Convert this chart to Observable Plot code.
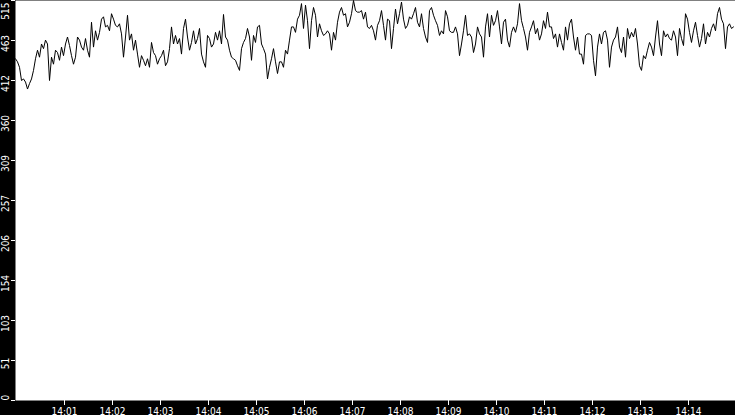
<!DOCTYPE html>
<html>
<head>
<meta charset="utf-8">
<script src="https://cdn.jsdelivr.net/npm/d3@7"></script>
<script src="https://cdn.jsdelivr.net/npm/@observablehq/plot@0.6"></script>
<style>
  html, body { margin: 0; padding: 0; background: black; }
  #chart svg { display: block; }
</style>
</head>
<body>
<div id="chart"></div>
<script>
// Series: one reading every 2.5 seconds from 14:00:00 to 14:15:00
const startTime = Date.UTC(2024, 0, 1, 14, 0, 0);
const stepMs = 2500;
const values = [
  440,436,429,412,414,410,401,408,414,425,440,451,442,459,453,464,459,412,442,433,
  451,448,438,455,444,459,468,457,444,433,442,468,464,455,451,466,451,442,487,455,
  476,464,474,491,494,481,483,476,498,491,483,481,485,472,442,468,496,464,472,451,
  464,446,429,444,438,431,440,429,461,448,444,433,440,444,451,431,436,453,481,459,
  470,459,466,446,479,491,468,451,461,476,459,466,479,446,436,429,470,466,455,459,
  474,464,476,459,497,468,464,451,442,440,438,431,425,453,461,466,479,468,438,470,
  461,481,483,459,453,446,414,429,440,453,436,421,436,436,429,451,446,464,481,481,
  474,491,496,511,479,509,489,453,489,506,496,468,485,476,470,472,476,472,451,474,
  464,487,500,506,496,498,481,487,498,515,502,500,500,502,491,500,481,479,483,476,
  464,483,489,502,483,464,491,489,453,479,504,485,498,513,491,479,483,494,491,498,
  506,487,481,498,479,468,461,502,506,496,489,483,470,476,472,502,494,476,474,474,
  481,472,444,459,476,496,470,472,468,448,459,481,472,468,442,481,498,468,496,483,
  489,502,481,459,487,491,464,455,474,481,474,485,511,489,479,468,451,474,481,489,
  472,479,464,472,489,479,500,481,481,466,472,455,472,461,451,481,464,485,491,468,
  451,468,446,446,433,470,472,472,470,438,418,455,472,459,474,476,464,429,455,464,
  468,481,455,448,468,442,479,466,474,468,479,459,431,425,444,440,451,461,455,444,
  468,489,459,444,476,468,472,466,464,476,468,444,479,466,457,498,491,474,461,476,
  487,470,455,466,485,459,474,468,479,485,476,498,506,491,485,453,481,485,479,481
];

const yTickValues = [0, 51.5, 103, 154.5, 206, 257.5, 309, 360.5, 412, 463.5, 515];
const yTickLabels = ["0", "51", "103", "154", "206", "257", "309", "360", "412", "463", "515"];
const xTickMinutes = [1, 2, 3, 4, 5, 6, 7, 8, 9, 10, 11, 12, 13, 14];
const xTickLabels = ["14:01", "14:02", "14:03", "14:04", "14:05", "14:06", "14:07",
                     "14:08", "14:09", "14:10", "14:11", "14:12", "14:13", "14:14"];

const data = values.map((v, i) => ({ t: new Date(startTime + i * stepMs), v }));
const xTickValues = xTickMinutes.map(m => new Date(startTime + m * 60000));
const xLabelOf = d => xTickLabels[xTickValues.findIndex(t => +t === +d)];
const yTicks = yTickValues.map((v, i) => ({ v, label: yTickLabels[i], i }));
const last = yTicks.length - 1;

const font = "'DejaVu Sans Condensed', 'DejaVu Sans', sans-serif";
const fs = 10;

const chart = Plot.plot({
  width: 735,
  height: 415,
  marginLeft: 15,
  marginRight: 0,
  marginTop: 0,
  marginBottom: 15,
  style: { background: "black", fontFamily: font, fontSize: fs + "px", fontStretch: "condensed" },
  x: { type: "utc", domain: [new Date(startTime), new Date(startTime + 900000)] },
  y: { domain: [0, 515] },
  marks: [
    Plot.frame({ fill: "white", stroke: null }),
    Plot.axisX({
      ticks: xTickValues, tickFormat: xLabelOf, tickSize: 5, tickPadding: 2,
      stroke: "white", fill: "white", fontSize: fs, label: null, dx: 1
    }),
    Plot.axisY({
      ticks: yTickValues, tickFormat: () => "", tickSize: 4,
      stroke: "white", label: null
    }),
    Plot.text(yTicks.filter(d => d.i > 0 && d.i < last), {
      y: "v", text: "label", frameAnchor: "left", dx: -9.5, dy: 3, rotate: -90,
      fill: "white", fontSize: fs, textAnchor: "middle"
    }),
    Plot.text(yTicks.filter(d => d.i === 0), {
      y: "v", text: "label", frameAnchor: "left", dx: -9.5, rotate: -90,
      fill: "white", fontSize: fs, textAnchor: "start"
    }),
    Plot.text(yTicks.filter(d => d.i === last), {
      y: "v", text: "label", frameAnchor: "left", dx: -9.5, dy: 2, rotate: -90,
      fill: "white", fontSize: fs, textAnchor: "end"
    }),
    Plot.line(data, { x: "t", y: "v", stroke: "black", strokeWidth: 1 })
  ]
});
document.getElementById("chart").append(chart);
</script>
</body>
</html>
